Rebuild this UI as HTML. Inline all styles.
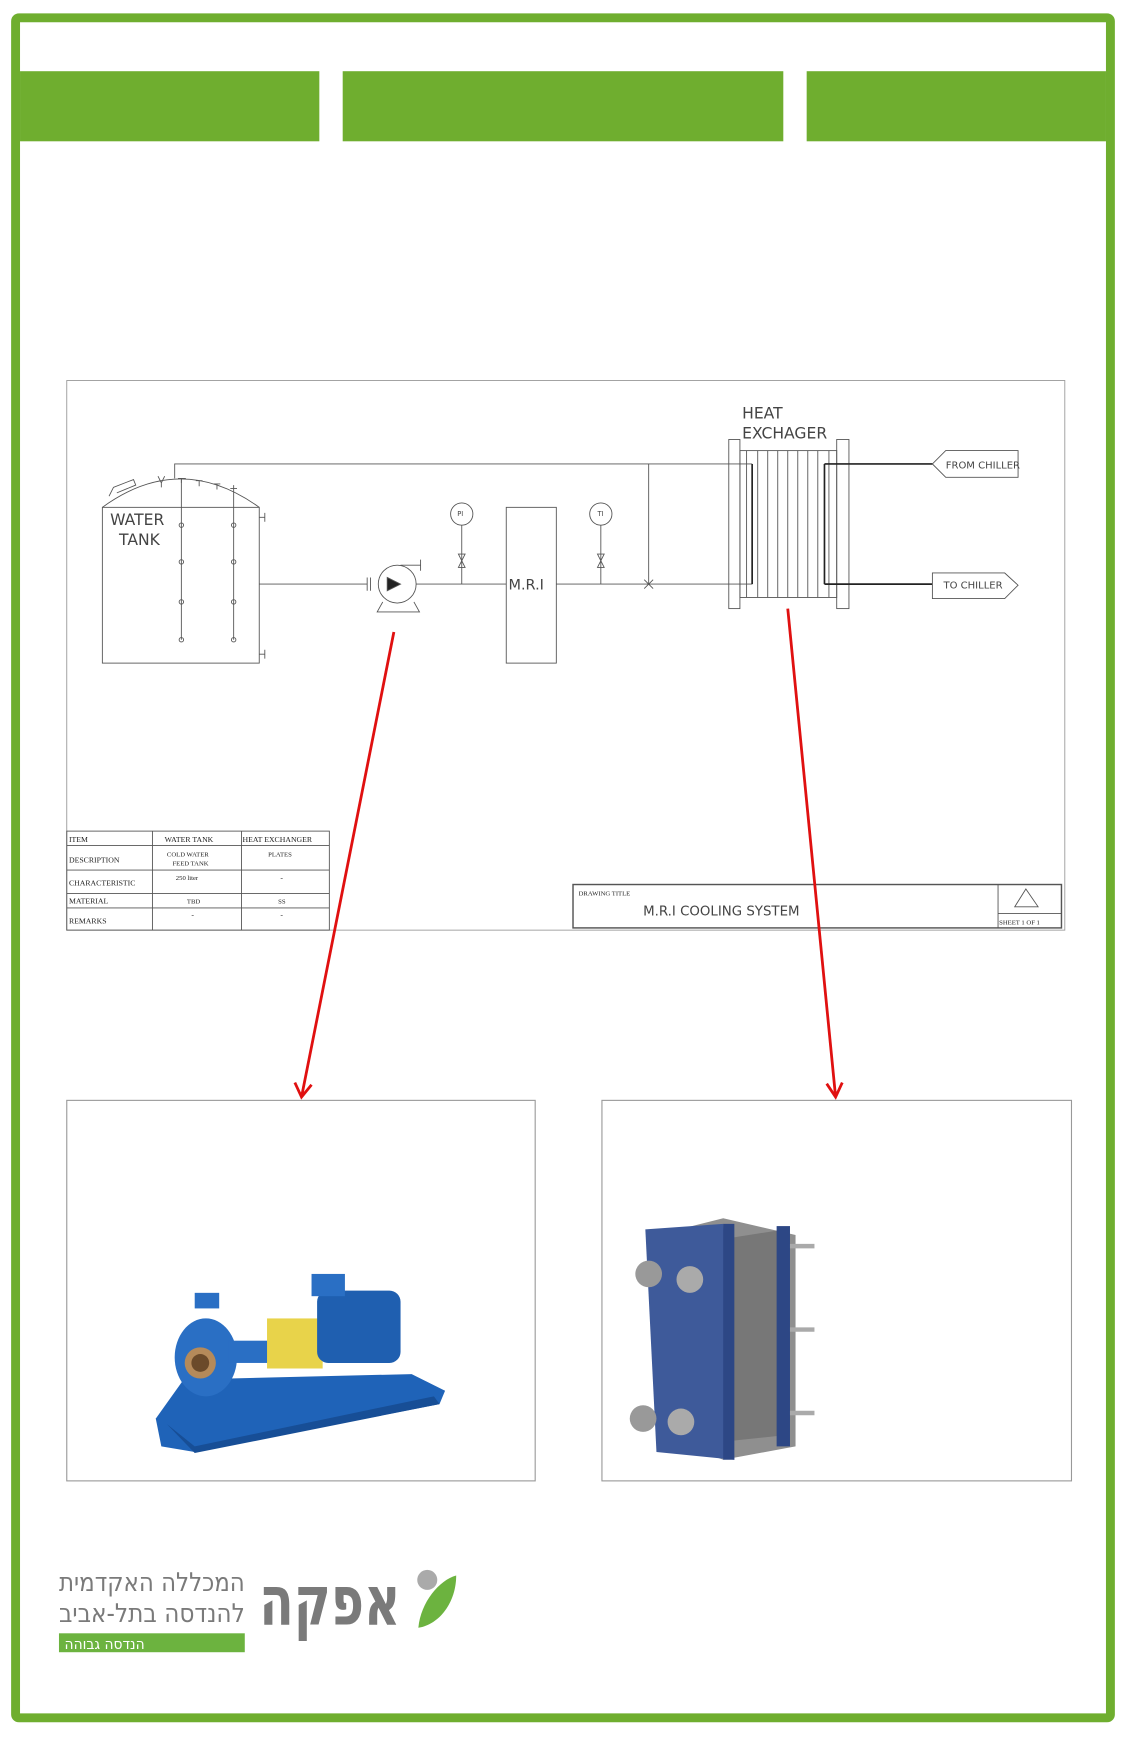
<!DOCTYPE html>
<html><head><meta charset="utf-8"><style>
html,body{margin:0;padding:0;background:#fff;}
svg{display:block;}
</style></head><body>
<svg width="1126" height="1739" viewBox="0 0 1012 1563" preserveAspectRatio="none" xmlns="http://www.w3.org/2000/svg" font-family="Liberation Sans, sans-serif">
<rect x="0" y="0" width="1012" height="1563" fill="#fff"/>
<rect x="14" y="16" width="984" height="1528" fill="none" stroke="#6fae2f" stroke-width="8" rx="3"/>
<rect x="18" y="64" width="269" height="63" fill="#6fae2f"/>
<rect x="308" y="64" width="396" height="63" fill="#6fae2f"/>
<rect x="725" y="64" width="269" height="63" fill="#6fae2f"/>

<g fill="none" stroke="#555" stroke-width="0.8">
<rect x="60" y="342" width="897" height="494" stroke="#999"/>
<rect x="92" y="456" width="141" height="140"/>
<path d="M92,456 Q162,405 233,456"/>
<path d="M98,446 l4,-8 l18,-7 l2,5 l-17,7"/>
<line x1="163" y1="430" x2="163" y2="575"/><line x1="210" y1="436" x2="210" y2="575"/>
<circle cx="163" cy="472" r="2"/><circle cx="163" cy="505" r="2"/><circle cx="163" cy="541" r="2"/><circle cx="163" cy="575" r="2"/>
<circle cx="210" cy="472" r="2"/><circle cx="210" cy="505" r="2"/><circle cx="210" cy="541" r="2"/><circle cx="210" cy="575" r="2"/>
<path d="M142,428 l3,6 l3,-6 M145,434 v4"/>
<path d="M160,430 h7 M163,430 v4 M176,432 h6 M179,432 v5 M192,435 h6 M195,435 v5 M207,439 h6"/>
<path d="M233,465 h5 M238,461 v8 M233,588 h5 M238,584 v8"/>
<polyline points="157,430 157,417 676,417"/>
<line x1="233" y1="525" x2="330" y2="525"/>
<path d="M330,519 v12 M333,519 v12"/>
<circle cx="357" cy="525" r="17"/>
<path d="M348,519 l12,6 l-12,6 z" fill="#222"/>
<path d="M344,541 l-5,9 h38 l-5,-9"/>
<path d="M360,508 h18 M378,503 v10"/>
<line x1="374" y1="525" x2="455" y2="525"/>
<rect x="455" y="456" width="45" height="140"/>
<circle cx="415" cy="462" r="10"/>
<line x1="415" y1="472" x2="415" y2="525"/>
<path d="M412,498 l6,12 h-6 l6,-12 z"/>
<line x1="500" y1="525" x2="676" y2="525"/>
<circle cx="540" cy="462" r="10"/>
<line x1="540" y1="472" x2="540" y2="525"/>
<path d="M537,498 l6,12 h-6 l6,-12 z"/>
<line x1="583" y1="417" x2="583" y2="525"/>
<path d="M579,521 l8,8 M579,529 l8,-8"/>
<rect x="655" y="395" width="10" height="152"/>
<rect x="752" y="395" width="11" height="152"/>
<rect x="665" y="405" width="87" height="132"/>
<path d="M671,405v132 M681,405v132 M690,405v132 M699,405v132 M708,405v132 M717,405v132 M726,405v132 M735,405v132 M745,405v132"/>
<path d="M676,417v108 M741,417v108" stroke="#222" stroke-width="1.5"/>
<line x1="741" y1="417" x2="838" y2="417" stroke="#222" stroke-width="1.5"/>
<line x1="741" y1="525" x2="838" y2="525" stroke="#222" stroke-width="1.5"/>
<polygon points="838,417 850,405 915,405 915,429 850,429"/>
<polygon points="838,515 903,515 915,526 903,538 838,538"/>
<rect x="60" y="747" width="236" height="89"/>
<path d="M137,747v89 M217,747v89 M60,760h236 M60,782h236 M60,803h236 M60,816h236"/>
<rect x="515" y="795" width="439" height="39" stroke-width="1.3"/>
<path d="M897,795v39 M897,821h57"/>
<polygon points="922,799 912,815 933,815"/>
</g>
<g fill="#444" font-size="14" font-family="DejaVu Sans, sans-serif">
<text x="99" y="472">WATER</text><text x="107" y="490">TANK</text>
<text x="457" y="530" font-size="13">M.R.I</text>
<text x="667" y="376">HEAT</text><text x="667" y="394">EXCHAGER</text>
<text x="850" y="421" font-size="9">FROM CHILLER</text>
<text x="848" y="529" font-size="9">TO CHILLER</text>
<text x="411" y="464" font-size="6">PI</text><text x="537" y="464" font-size="6">TI</text>
<text x="578" y="823" font-size="12">M.R.I COOLING SYSTEM</text>
</g>
<g fill="#222" font-size="7" font-family="Liberation Serif, serif">
<text x="62" y="757">ITEM</text><text x="148" y="757">WATER TANK</text><text x="218" y="757">HEAT EXCHANGER</text>
<text x="62" y="775">DESCRIPTION</text><text x="150" y="770" font-size="6">COLD WATER</text><text x="155" y="778" font-size="6">FEED TANK</text><text x="241" y="770" font-size="6">PLATES</text>
<text x="62" y="796">CHARACTERISTIC</text><text x="158" y="791" font-size="6">250 liter</text><text x="252" y="791">-</text>
<text x="62" y="812">MATERIAL</text><text x="168" y="812" font-size="6">TBD</text><text x="250" y="812" font-size="6">SS</text>
<text x="62" y="830">REMARKS</text><text x="172" y="824">-</text><text x="252" y="824">-</text>
<text x="520" y="805" font-size="6">DRAWING TITLE</text>
<text x="898" y="831" font-size="6">SHEET 1 OF 1</text>
</g>

<g stroke="#e01010" stroke-width="2.5" fill="none">
<line x1="354" y1="568" x2="271" y2="986"/>
<path d="M265,973 l6,13 l9,-11"/>
<line x1="708" y1="547" x2="751" y2="986"/>
<path d="M743,974 l8,12 l6,-13"/>
</g>

<rect x="60" y="989" width="421" height="342" fill="#fff" stroke="#999"/>
<rect x="541" y="989" width="422" height="342" fill="#fff" stroke="#999"/>
<g>
<polygon points="140,1275 165,1240 370,1235 400,1250 395,1262 175,1305 145,1300" fill="#1f63b8"/>
<polygon points="150,1280 175,1300 390,1255 395,1262 175,1306" fill="#174e96"/>
<ellipse cx="185" cy="1220" rx="28" ry="35" fill="#2a6fc4"/>
<circle cx="180" cy="1225" r="14" fill="#b58a5a"/><circle cx="180" cy="1225" r="8" fill="#6b4a2a"/>
<rect x="175" y="1162" width="22" height="14" fill="#2a6fc4"/>
<rect x="205" y="1205" width="40" height="20" fill="#2a6fc4"/>
<rect x="240" y="1185" width="50" height="45" fill="#e8d34a"/>
<rect x="285" y="1160" width="75" height="65" rx="10" fill="#1f5fb0"/>
<rect x="280" y="1145" width="30" height="20" fill="#2a6fc4"/>
</g>
<g>
<polygon points="590,1110 650,1095 715,1110 715,1300 650,1312 590,1290" fill="#8f8f8f"/>
<polygon points="610,1120 705,1105 705,1290 610,1300" fill="#777"/>
<polygon points="580,1105 650,1100 660,1312 590,1305" fill="#3e5a9a"/>
<rect x="650" y="1100" width="10" height="212" fill="#2d4785"/>
<rect x="698" y="1102" width="12" height="198" fill="#2d4785"/>
<ellipse cx="583" cy="1145" rx="12" ry="12" fill="#999"/><ellipse cx="620" cy="1150" rx="12" ry="12" fill="#aaa"/>
<ellipse cx="578" cy="1275" rx="12" ry="12" fill="#999"/><ellipse cx="612" cy="1278" rx="12" ry="12" fill="#aaa"/>
<path d="M710,1120h22 M710,1195h22 M710,1270h22" stroke="#aaa" stroke-width="4"/>
</g>

<circle cx="384" cy="1420" r="9" fill="#aaa"/>
<path d="M376,1463 C378,1440 395,1420 410,1416 C410,1440 395,1460 376,1463 z" fill="#6cb33f"/>
<text x="233" y="1460" font-size="62" font-weight="bold" fill="#7a7a7a" font-family="DejaVu Sans, sans-serif" textLength="127" lengthAdjust="spacingAndGlyphs">אפקה</text>
<text x="53" y="1430" font-size="23" fill="#7a7a7a" font-family="DejaVu Sans, sans-serif" textLength="167" lengthAdjust="spacingAndGlyphs">המכללה האקדמית</text>
<text x="53" y="1458" font-size="23" fill="#7a7a7a" font-family="DejaVu Sans, sans-serif" textLength="167" lengthAdjust="spacingAndGlyphs">להנדסה בתל-אביב</text>
<rect x="53" y="1468" width="167" height="17" fill="#6cb33f"/>
<text x="58" y="1482" font-size="13" fill="#fff" font-family="DejaVu Sans, sans-serif" textLength="72" lengthAdjust="spacingAndGlyphs">הנדסה גבוהה</text>
</svg>
</body></html>
